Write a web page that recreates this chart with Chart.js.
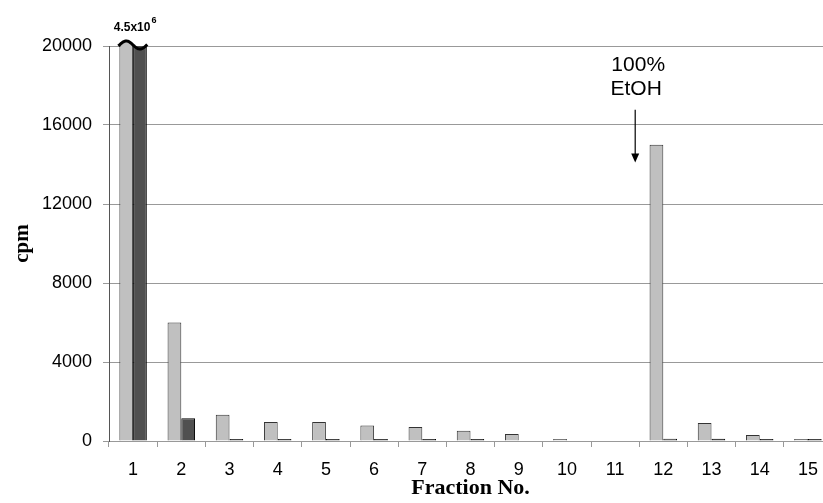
<!DOCTYPE html>
<html lang="en">
<head>
<meta charset="UTF-8">
<title>cpm per fraction</title>
<script src="https://cdn.jsdelivr.net/npm/chart.js@4.4.1/dist/chart.umd.min.js"></script>
<style>
  html, body { margin: 0; padding: 0; background: #fff; overflow: hidden; }
  /* the plot runs a little past the right edge of the window, like the figure */
  #box { position: relative; width: 832px; height: 503px; }
</style>
</head>
<body>
<div id="box"><canvas id="grafico"></canvas></div>
<script>
// values (fraction 1 is off scale: 4.5x10^6)
const fractions = ['1', '2', '3', '4', '5', '6', '7', '8', '9', '10', '11', '12', '13', '14', '15'];
const cpmLight = [4500000, 6000, 1330, 960, 960, 790, 710, 520, 355, 100, 0, 15000, 910, 300, 100];
const cpmDark = [4500000, 1150, 100, 100, 100, 100, 100, 100, 0, 0, 0, 120, 110, 100, 100];
const yTicks = [0, 4000, 8000, 12000, 16000, 20000];
const offScaleText = '4.5x10';
const offScaleExp = '6';
const noteLines = ['100%', 'EtOH'];

const corClara = '#c0c0c0';
const corEscura = '#505050';
const fonteSans = '"Liberation Sans", Arial, sans-serif';
const fonteSerif = '"Liberation Serif", "Times New Roman", serif';

// broken top of fraction 1 and the 4.5x10^6 label
const quebra = {
  id: 'quebra',
  afterDatasetsDraw(chart) {
    const ctx = chart.ctx;
    const top = chart.chartArea.top;
    const b0 = chart.getDatasetMeta(0).data[0];
    const b1 = chart.getDatasetMeta(1).data[0];
    const x0 = b0.x - b0.width / 2, x1 = b1.x + b1.width / 2;
    const base = top - 1, amp = 4;
    const waveY = x => base - amp * Math.sin(2 * Math.PI * (x - x0) / (x1 - x0));

    const barras = [[b0, corClara, '#333'], [b1, corEscura, '#000']];
    ctx.save();
    barras.forEach(([b, fill, edge]) => {
      const a = b.x - b.width / 2, e = b.x + b.width / 2;
      ctx.beginPath();
      ctx.moveTo(a, top + 1);
      for (let x = a; x <= e; x += 0.5) ctx.lineTo(x, waveY(x));
      ctx.lineTo(e, top + 1);
      ctx.closePath();
      ctx.fillStyle = fill;
      ctx.fill();
      ctx.strokeStyle = edge;
      ctx.lineWidth = 1;
      ctx.beginPath();
      ctx.moveTo(a + 0.5, top + 1); ctx.lineTo(a + 0.5, waveY(a));
      ctx.moveTo(e - 0.5, top + 1); ctx.lineTo(e - 0.5, waveY(e));
      ctx.stroke();
    });
    ctx.beginPath();
    for (let x = x0 - 1; x <= x1 + 1; x += 0.5) {
      if (x === x0 - 1) ctx.moveTo(x, waveY(x)); else ctx.lineTo(x, waveY(x));
    }
    ctx.strokeStyle = '#000';
    ctx.lineWidth = 3;
    ctx.stroke();

    // label
    const cx = (x0 + x1) / 2 + 2;
    ctx.font = 'bold 12px ' + fonteSans;
    const w1 = ctx.measureText(offScaleText).width;
    ctx.font = 'bold 9px ' + fonteSans;
    const w2 = ctx.measureText(offScaleExp).width;
    const start = cx - (w1 + w2 + 1) / 2;
    ctx.fillStyle = '#000';
    ctx.textBaseline = 'alphabetic';
    ctx.textAlign = 'left';
    ctx.font = 'bold 12px ' + fonteSans;
    ctx.fillText(offScaleText, start, 31);
    ctx.font = 'bold 9px ' + fonteSans;
    ctx.fillText(offScaleExp, start + w1 + 1, 23);
    ctx.restore();
  }
};

// "100% EtOH" note with arrow over fraction 12
const nota = {
  id: 'nota',
  afterDraw(chart) {
    const ctx = chart.ctx;
    const xs = chart.scales.x, ys = chart.scales.y;
    const xa = (xs.getPixelForValue(10) + xs.getPixelForValue(11)) / 2 - 4;
    ctx.save();
    ctx.fillStyle = '#000';
    ctx.font = '21px ' + fonteSans;
    ctx.textAlign = 'center';
    ctx.textBaseline = 'middle';
    ctx.fillText(noteLines[0], xa + 3, ys.getPixelForValue(19050));
    ctx.fillText(noteLines[1], xa + 1, ys.getPixelForValue(17800));
    const yA = ys.getPixelForValue(16770), yB = ys.getPixelForValue(14100);
    ctx.strokeStyle = '#000';
    ctx.lineWidth = 1.2;
    ctx.beginPath();
    ctx.moveTo(xa, yA);
    ctx.lineTo(xa, yB - 8);
    ctx.stroke();
    ctx.beginPath();
    ctx.moveTo(xa - 4, yB - 9);
    ctx.lineTo(xa + 4, yB - 9);
    ctx.lineTo(xa, yB);
    ctx.closePath();
    ctx.fill();
    ctx.restore();
  }
};

new Chart(document.getElementById('grafico'), {
  type: 'bar',
  data: {
    labels: fractions,
    datasets: [
      {
        label: 'light',
        data: cpmLight,
        backgroundColor: corClara,
        borderColor: '#333',
        borderWidth: 1,
        categoryPercentage: 0.57,
        barPercentage: 1
      },
      {
        label: 'dark',
        data: cpmDark,
        backgroundColor: corEscura,
        borderColor: '#000',
        borderWidth: 1,
        categoryPercentage: 0.57,
        barPercentage: 1
      }
    ]
  },
  options: {
    responsive: true,
    maintainAspectRatio: false,
    animation: false,
    layout: { padding: { top: 46, right: 0, left: 0, bottom: 0 } },
    plugins: { legend: { display: false }, tooltip: { enabled: false } },
    scales: {
      x: {
        afterFit: s => { s.height = 62; },
        grid: { drawOnChartArea: false, drawTicks: true, tickLength: 6, tickColor: '#999', offset: true },
        border: { color: '#999', width: 1 },
        ticks: { color: '#000', padding: 12, font: { family: fonteSans, size: 18 } },
        title: {
          display: true,
          text: 'Fraction No.',
          color: '#000',
          padding: { top: 0, bottom: 1 },
          font: { family: fonteSerif, size: 22, weight: 'bold' }
        }
      },
      y: {
        min: 0,
        max: 20000,
        afterFit: s => { s.width = 109; },
        afterBuildTicks: s => { s.ticks = yTicks.map(v => ({ value: v })); },
        grid: { color: '#999', tickColor: '#999', tickLength: 6 },
        border: { color: '#555', width: 1 },
        ticks: {
          color: '#000',
          padding: 11,
          font: { family: fonteSans, size: 18 },
          callback: v => String(v)
        },
        title: {
          display: true,
          text: 'cpm',
          color: '#000',
          padding: { top: 10, bottom: 0 },
          font: { family: fonteSerif, size: 21, weight: 'bold' }
        }
      }
    }
  },
  plugins: [quebra, nota]
});
</script>
</body>
</html>
